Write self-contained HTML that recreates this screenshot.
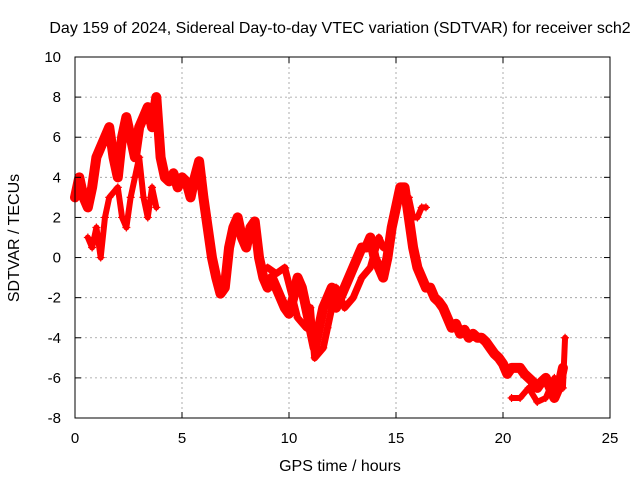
<!DOCTYPE html>
<html><head><meta charset="utf-8"><style>
body{margin:0;background:#fff}
svg{display:block;font-family:"Liberation Sans",sans-serif}
</style></head><body>
<svg id="chart" width="640" height="480">
<rect width="640" height="480" fill="#fff"/>
<text x="340" y="33" font-size="16" text-anchor="middle">Day 159 of 2024, Sidereal Day-to-day VTEC variation (SDTVAR) for receiver sch2</text>
<text x="340" y="471" font-size="16" text-anchor="middle">GPS time / hours</text>
<text transform="translate(19,238) rotate(-90)" font-size="16" text-anchor="middle">SDTVAR / TECUs</text>
<g id="grid"></g><g id="marks"></g>
<rect x="75" y="57" width="535" height="361" fill="none" stroke="#000"/>
<g id="ticks"></g>
</svg>
<script>
const xTicks=[0,5,10,15,20,25];
const yTicks=[-8,-6,-4,-2,0,2,4,6,8,10];
const mainX=[0,0.2,0.4,0.6,0.8,1.0,1.2,1.4,1.6,1.8,2.0,2.2,2.4,2.6,2.8,3.0,3.2,3.4,3.6,3.8,4.0,4.2,4.4,4.6,4.8,5.0,5.2,5.4,5.6,5.8,6.0,6.2,6.4,6.6,6.8,7.0,7.2,7.4,7.6,7.8,8.0,8.2,8.4,8.6,8.8,9.0,9.2,9.4,9.6,9.8,10.0,10.2,10.4,10.6,10.8,11.0,11.2,11.4,11.6,11.8,12.0,12.2,12.4,12.6,12.8,13.0,13.2,13.4,13.6,13.8,14.0,14.2,14.4,14.6,14.8,15.0,15.2,15.4,15.6,15.8,16.0,16.2,16.4,16.6,16.8,17.0,17.2,17.4,17.6,17.8,18.0,18.2,18.4,18.6,18.8,19.0,19.2,19.4,19.6,19.8,20.0,20.2,20.4,20.6,20.8,21.0,21.2,21.4,21.6,21.8,22.0,22.2,22.4,22.6,22.8];
const mainY=[3,4,3,2.5,3.5,5,5.5,6,6.5,5,4,6,7,6,5,6.5,7,7.5,6.5,8,5,4,3.8,4.2,3.5,4,3.8,3,4,4.8,3,1.5,0,-1,-1.8,-1.5,0.5,1.5,2,1,0.5,1.5,1.8,0,-1,-1.5,-1,-1.5,-2,-2.5,-2.8,-2,-1,-1.5,-2.5,-3.5,-4.5,-3.5,-2.5,-2,-1.5,-2.5,-2,-1.5,-1,-0.5,0,0.5,0.5,1,0,-0.5,-1,0,1.5,2.5,3.5,3.5,2,0.5,-0.5,-1,-1.5,-1.5,-2,-2.2,-2.5,-3,-3.5,-3.3,-3.8,-3.6,-4,-3.8,-4,-4,-4.2,-4.5,-4.8,-5,-5.3,-5.8,-5.5,-5.5,-5.5,-5.8,-6,-6.2,-6.5,-6.2,-6,-6.5,-7,-6.5,-5.5];
const band2X=[0.6,0.8,1.0,1.2,1.4,1.6,2.0,2.2,2.4,2.6,2.8,3.0,3.2,3.4,3.6,3.8];
const band2Y=[1,0.5,1.5,0,2,3,3.5,2,1.5,3,4,5,3,2,3.5,2.5];
const band3X=[9.0,9.4,9.8,10.4,10.8,11.0,11.2,11.6,11.8,12.2,12.6,13.0,13.4,13.8,14.2,14.4];
const band3Y=[-0.5,-0.8,-0.5,-3,-3.5,-2.5,-5,-4.5,-3.5,-1.5,-2.5,-2,-1,-0.5,1,0.5];
const band4X=[15.6,15.8,16.0,16.2,16.4];
const band4Y=[3,2,2,2.5,2.5];
const band5X=[20.4,20.8,21.2,21.6,22.0,22.4,22.8,22.9];
const band5Y=[-7,-7,-6.5,-7.2,-7,-6,-6.5,-4];
const NS="http://www.w3.org/2000/svg";
const xs=v=>75+v*535/25, ys=v=>418-(v+8)*361/18;
const grid=document.getElementById('grid'),ticks=document.getElementById('ticks'),marks=document.getElementById('marks');
function mk(t,a,p){const e=document.createElementNS(NS,t);for(const k in a)e.setAttribute(k,a[k]);p.appendChild(e);return e;}
xTicks.forEach(v=>{const x=xs(v);
 if(v>0&&v<25){const g=mk('line',{x1:x,x2:x,y1:57,y2:418,stroke:'#999','stroke-dasharray':'2,3','stroke-width':0.8},grid);
 
 }
 mk('line',{x1:x,x2:x,y1:418,y2:412,stroke:'#000'},ticks);mk('line',{x1:x,x2:x,y1:57,y2:63,stroke:'#000'},ticks);
 const t=mk('text',{x:x,y:443,'font-size':15,'text-anchor':'middle'},ticks);t.textContent=v;
 
 });
yTicks.forEach(v=>{const y=ys(v);
 if(v>-8&&v<10){const g=mk('line',{x1:75,x2:610,y1:y,y2:y,stroke:'#999','stroke-dasharray':'2,3','stroke-width':0.8},grid);
 
 }
 mk('line',{x1:75,x2:81,y1:y,y2:y,stroke:'#000'},ticks);mk('line',{x1:610,x2:604,y1:y,y2:y,stroke:'#000'},ticks);
 const t=mk('text',{x:61,y:y+5,'font-size':15,'text-anchor':'end'},ticks);t.textContent=v;
 
 });
function series(X,Y,w,name){
 const pts=X.map((x,i)=>xs(x)+','+ys(Y[i])).join(' ');
 const pl=mk('polyline',{points:pts,fill:'none',stroke:'#f00','stroke-width':w,'stroke-linejoin':'round','stroke-linecap':'round'},marks);
 
 
 X.forEach((x,i)=>{const cx=xs(x),cy=ys(Y[i]);
  const p=mk('path',{d:`M${cx-4},${cy}h8M${cx},${cy-4}v8`,stroke:'#f00','stroke-width':1.2},marks);
  
  });
}
series(mainX,mainY,10,'sdtvar-main-trace');
series(band2X,band2Y,6,'sdtvar-band-early');
series(band3X,band3Y,7,'sdtvar-band-mid');
series(band4X,band4Y,6,'sdtvar-band-15h');
series(band5X,band5Y,6,'sdtvar-band-late');
</script>
</body></html>
